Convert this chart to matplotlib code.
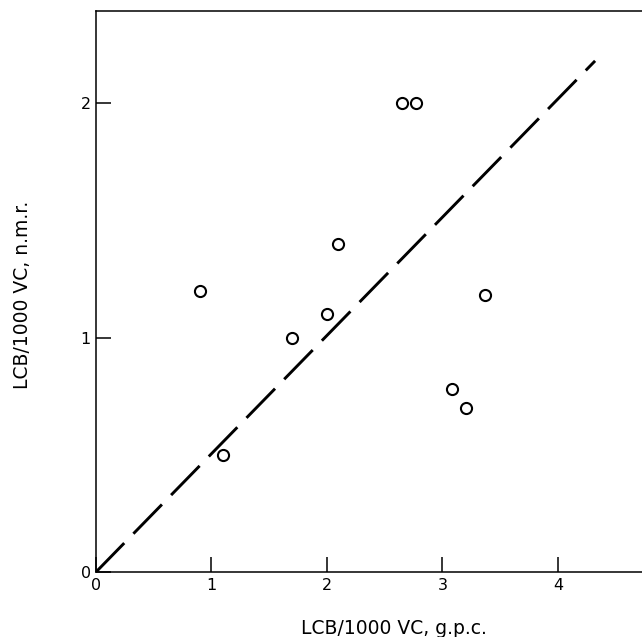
import matplotlib
matplotlib.use("Agg")
import matplotlib.pyplot as plt

# data
gpc = [0.90, 1.10, 1.70, 2.00, 2.10, 2.65, 2.77, 3.08, 3.20, 3.37]
nmr = [1.20, 0.50, 1.00, 1.10, 1.40, 2.00, 2.00, 0.78, 0.70, 1.18]
line_x = [0.0, 4.32]
line_y = [0.0, 2.18]
xticks = [0, 1, 2, 3, 4]
yticks = [0, 1, 2]
xlabel = "LCB/1000 VC, g.p.c."
ylabel = "LCB/1000 VC, n.m.r."

plt.rcParams['font.family'] = ['DejaVu Sans']

W, H = 642, 637
fig = plt.figure(figsize=(W / 100, H / 100), dpi=100)
x0, y0 = 95.7, 572.3
ux, uy = 115.6, 234.6
xmax = (W - x0) / ux
ymax = (y0 - 11) / uy
ax = fig.add_axes([x0 / W, (H - y0) / H, (W - x0) / W, (y0 - 11) / H])
ax.set_xlim(0, xmax)
ax.set_ylim(0, ymax)

ax.plot(line_x, line_y, color='black', lw=2.1, dashes=(14, 4.5),
        dash_capstyle='butt', solid_capstyle='butt')
ax.plot(gpc, nmr, linestyle='none', marker='o', ms=8, mfc='white',
        mec='black', mew=1.5, clip_on=False)

ax.set_xticks(xticks)
ax.set_yticks(yticks)
ax.tick_params(direction='in', length=11, width=1.1, labelsize=11.5, pad=4,
               colors='black')
ax.tick_params(axis='y', pad=3.5)
for s in ['left', 'bottom', 'top']:
    ax.spines[s].set_linewidth(1.1)
ax.spines['right'].set_visible(False)

ax.set_xlabel(xlabel, fontsize=13.5)
ax.set_ylabel(ylabel, fontsize=13.5)
ax.xaxis.label.set_va('center')
ax.yaxis.label.set_va('center')
ax.xaxis.set_label_coords((394 - x0) / (W - x0), (y0 - 628) / (y0 - 11))
ax.yaxis.set_label_coords((22 - x0) / (W - x0), (y0 - 295) / (y0 - 11))

fig.savefig("out.png", dpi=100)
